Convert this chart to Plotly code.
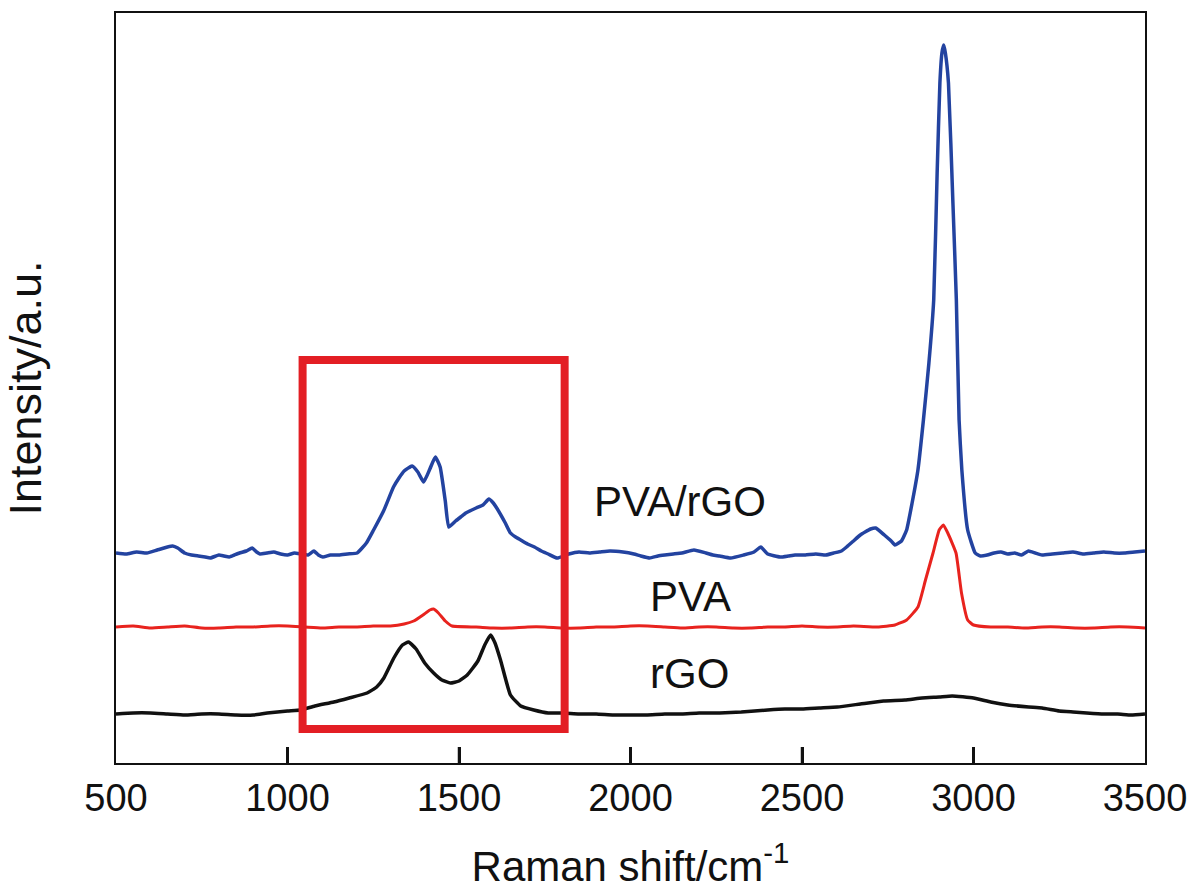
import plotly.graph_objects as go

# ---- data (arbitrary intensity units) ----
pva_rgo_x = [500, 530, 560, 590, 620, 650, 665, 680, 700, 720, 740, 760, 775, 800, 815, 830, 845,
             860, 880, 897, 910, 920, 940, 960, 980, 1000, 1020, 1040, 1060,
             1077, 1090, 1103, 1125, 1150, 1175, 1203, 1230, 1251, 1280, 1309, 1325, 1340, 1363, 1380, 1397, 1415, 1431,
             1445, 1460, 1470, 1490, 1505, 1520, 1550, 1570, 1587, 1600, 1610, 1635, 1650, 1665, 1680, 1700, 1720, 1740,
             1760, 1786,
             1820, 1850, 1880, 1910, 1940, 1978, 2010, 2030, 2056, 2080, 2100, 2125, 2150, 2185, 2220, 2240, 2260, 2292,
             2330, 2360, 2380,
             2400, 2436, 2460, 2480, 2510, 2540, 2570, 2592, 2615, 2630, 2650, 2670, 2700, 2715, 2740, 2760, 2771, 2790,
             2805, 2821,
             2838, 2854, 2870, 2884, 2894, 2902, 2908, 2913, 2918, 2927, 2940, 2950, 2958, 2966, 2983, 3005, 3020, 3040,
             3060, 3080,
             3100, 3120, 3140, 3160, 3180, 3200, 3230, 3260, 3290, 3320, 3350, 3380, 3410, 3440, 3470, 3500]
pva_rgo_y = [210, 209, 211, 210, 213, 216, 217, 215, 210, 208, 207, 206, 205, 208, 207, 206, 208,
             210, 212, 215, 211, 209, 210, 211, 209, 208, 210, 209, 208,
             212, 208, 206, 208, 208, 209, 210, 220, 233, 252, 276, 285, 292, 297, 291, 281, 294, 306,
             296, 262, 236, 242, 246, 250, 255, 258, 264, 260, 255, 240, 230, 226, 223, 219, 216, 212,
             209, 205,
             209, 211, 210, 211, 212, 211, 209, 207, 205, 207, 208, 209, 210, 213, 210, 208, 207, 205,
             208, 211, 216,
             209, 206, 207, 208, 208, 209, 208, 210, 212, 216, 222, 228, 234, 235, 228, 222, 218, 222,
             233, 260,
             293, 343, 400, 463, 590, 680, 710, 718, 710, 680, 560, 463, 343, 293, 233, 210, 207, 208,
             210, 211,
             209, 210, 208, 212, 210, 208, 209, 210, 211, 209, 210, 211, 210, 210, 211, 212]

pva_x = [500, 550, 600, 650, 700, 750, 800, 850, 900, 950, 1000, 1050, 1100, 1150, 1200, 1250, 1300,
         1340, 1368, 1395, 1415, 1426, 1440,
         1460, 1480, 1550, 1600, 1650, 1700, 1750, 1800, 1850, 1900, 1950, 2000, 2050, 2100, 2150, 2200,
         2250, 2300, 2350, 2400, 2450, 2500, 2550, 2600, 2650,
         2720, 2771, 2805, 2838, 2860, 2882, 2900, 2912, 2925, 2949, 2965, 2983, 3000, 3050,
         3100, 3150, 3200, 3250, 3300, 3350, 3400, 3450, 3500]
pva_y = [136, 137, 135, 136, 137, 135, 135, 136, 136, 137, 137, 136, 135, 136, 136, 137, 137,
         139, 142, 148, 153, 154, 150,
         142, 137, 136, 135, 135, 136, 136, 135, 135, 136, 136, 137, 137, 136, 135, 136,
         136, 135, 135, 136, 136, 137, 136, 136, 137,
         136, 138, 143, 156, 183, 210, 233, 238, 230, 210, 170, 143, 138, 136,
         136, 135, 136, 136, 135, 135, 136, 136, 135]

rgo_x = [500, 550, 600, 650, 700, 750, 800, 850, 900, 941, 1000, 1038, 1080, 1135, 1180, 1232, 1260,
         1281, 1310, 1335,
         1353, 1375, 1400, 1426, 1450, 1475, 1500, 1524, 1555, 1575, 1592, 1605, 1621, 1650,
         1680, 1718, 1760, 1800, 1850, 1900, 1950, 2000, 2046, 2100, 2150, 2200, 2260, 2323, 2400, 2450,
         2500, 2550, 2603, 2670, 2738,
         2800, 2850, 2900, 2938, 3000, 3050, 3100, 3161, 3200, 3250, 3290, 3330, 3380, 3420, 3460, 3500]
rgo_y = [49, 50, 50, 49, 48, 49, 49, 48, 48, 50, 52, 53, 57, 61, 65, 70, 76,
         85, 105, 118,
         121, 114, 100, 90, 83, 80, 82, 88, 102, 118, 128, 120, 103, 68,
         57, 53, 50, 50, 49, 49, 48, 48, 48, 49, 49, 50, 50, 51, 53, 54,
         54, 55, 56, 59, 62,
         63, 65, 66, 67, 65, 61, 58, 56, 55, 52, 51, 50, 49, 49, 48, 49]

x_ticks = [500, 1000, 1500, 2000, 2500, 3000, 3500]
labels = ["PVA/rGO", "PVA", "rGO"]
label_x = [1889, 2050, 2050]
label_y = [262, 167, 90]
box_x = [1044, 1808]
box_y = [34, 403]

FONT = "Liberation Sans, Arial, sans-serif"

fig = go.Figure()
fig.add_trace(go.Scatter(x=rgo_x, y=rgo_y, mode="lines",
                         line=dict(color="#111111", width=3.5, shape="spline", smoothing=0.4),
                         showlegend=False))
fig.add_trace(go.Scatter(x=pva_x, y=pva_y, mode="lines",
                         line=dict(color="#e8231e", width=3, shape="spline", smoothing=0.4),
                         showlegend=False))
fig.add_trace(go.Scatter(x=pva_rgo_x, y=pva_rgo_y, mode="lines",
                         line=dict(color="#2343a0", width=3.5, shape="spline", smoothing=0.4),
                         showlegend=False))

# inner tick marks on the bottom axis only (drawn as short segments at the tick values)
tick_seg_x, tick_seg_y = [], []
for v in x_ticks[1:-1]:
    tick_seg_x += [v, v, None]
    tick_seg_y += [0, 16, None]
fig.add_trace(go.Scatter(x=tick_seg_x, y=tick_seg_y, mode="lines", cliponaxis=False,
                         line=dict(color="#111111", width=2.5), showlegend=False, hoverinfo="skip"))

for t, xx, yy in zip(labels, label_x, label_y):
    fig.add_annotation(x=xx, y=yy, text=t, showarrow=False, xanchor="left", yanchor="middle",
                       font=dict(family=FONT, size=42, color="#111111"))

fig.add_shape(type="rect", xref="x", yref="y", x0=box_x[0], x1=box_x[1], y0=box_y[0], y1=box_y[1],
              line=dict(color="#e31e24", width=8), layer="above")

fig.update_layout(
    width=1202, height=895,
    margin=dict(l=116, r=57, t=13, b=132),
    paper_bgcolor="white", plot_bgcolor="white",
    font=dict(family=FONT, color="#111111"),
)
fig.update_xaxes(range=[500, 3500], tickvals=x_ticks, ticktext=[str(v) for v in x_ticks],
                 ticks="inside", ticklen=16, tickwidth=2.5, tickcolor="#111111",
                 showline=True, linecolor="#111111", linewidth=2, mirror=True,
                 showgrid=False, zeroline=False,
                 tickfont=dict(family=FONT, size=38, color="#111111"),
                 title=dict(text="Raman shift/cm<sup>-1</sup>", standoff=34,
                            font=dict(family=FONT, size=42, color="#111111")))
fig.update_yaxes(range=[0, 750], showticklabels=False, ticks="",
                 showline=True, linecolor="#111111", linewidth=2, mirror=True,
                 showgrid=False, zeroline=False,
                 title=dict(text="Intensity/a.u.", standoff=58,
                            font=dict(family=FONT, size=45, color="#111111")))

fig.write_html("out.html")
